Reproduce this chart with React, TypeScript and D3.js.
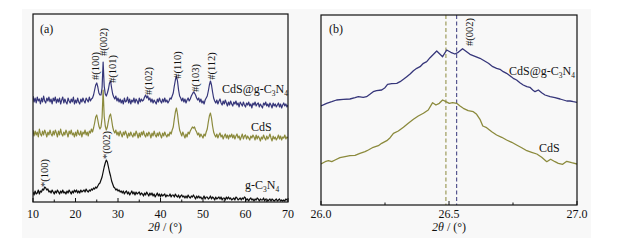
import React from "react";
import * as d3 from "d3";

// ---------- Panel (a) data: 2θ from 10° to 70° in 0.25° steps ----------
const thetaStartA = 10;
const thetaStepA = 0.25;

const cdsGcnA = [
  106, 100, 104, 99, 105, 101, 103, 98, 104, 100, 106, 101, 99, 104, 101, 105,
  100, 103, 98, 104, 101, 105, 99, 103, 100, 104, 98, 102, 105, 99, 103, 100,
  98, 104, 101, 99, 103, 100, 105, 98, 102, 99, 104, 100, 98, 103, 100, 104,
  101, 99, 104, 102, 100, 105, 101, 103, 104, 107, 112, 117, 119, 115, 109, 107,
  107, 114, 140, 116, 108, 106, 109, 113, 119, 121, 114, 108, 105, 103, 106, 101,
  104, 100, 103, 99, 102, 98, 104, 100, 101, 105, 99, 103, 98, 102, 100, 104,
  99, 103, 101, 98, 104, 100, 103, 101, 102, 105, 107, 104, 106, 102, 104, 100,
  103, 99, 102, 100, 98, 103, 100, 104, 101, 99, 103, 100, 104, 100, 102, 99,
  101, 104, 103, 106, 109, 116, 122, 126, 121, 112, 106, 104, 101, 104, 100, 103,
  99, 102, 104, 101, 103, 106, 108, 110, 109, 107, 104, 102, 104, 100, 103, 99,
  101, 98, 102, 104, 106, 111, 117, 121, 117, 110, 104, 101, 99, 102, 98, 101,
  103, 99, 97, 101, 98, 102, 99, 96, 100, 97, 101, 98, 96, 100, 98, 101,
  97, 99, 95, 100, 98, 96, 100, 97, 95, 99, 97, 100, 96, 98, 94, 99,
  97, 100, 96, 98, 99, 95, 98, 96, 94, 99, 97, 100, 96, 98, 95, 99,
  97, 94, 99, 96, 98, 95, 97, 99, 95, 98, 94, 97, 99, 96, 98, 95,
  97,
];

const cdsA = [
  72, 66, 71, 67, 70, 65, 73, 68, 66, 71, 67, 72, 69, 65, 70, 67,
  72, 68, 66, 71, 67, 72, 69, 65, 71, 67, 73, 68, 66, 70, 67, 72,
  69, 65, 71, 68, 72, 67, 69, 65, 70, 66, 72, 68, 67, 71, 65, 70,
  68, 72, 67, 70, 66, 71, 69, 73, 70, 74, 79, 85, 87, 82, 76, 73,
  75, 84, 112, 86, 76, 72, 75, 81, 86, 88, 82, 75, 71, 69, 72, 67,
  70, 66, 71, 68, 65, 70, 67, 71, 68, 64, 69, 66, 70, 67, 65, 69,
  66, 71, 68, 64, 69, 65, 70, 67, 71, 67, 65, 69, 66, 70, 68, 64,
  69, 66, 71, 67, 65, 69, 66, 70, 67, 64, 69, 66, 70, 67, 65, 68,
  66, 70, 68, 72, 75, 83, 90, 94, 88, 79, 72, 69, 66, 70, 67, 64,
  68, 65, 70, 68, 71, 73, 75, 74, 75, 72, 70, 67, 69, 65, 68, 66,
  64, 68, 66, 70, 73, 80, 86, 89, 84, 76, 70, 67, 65, 68, 64, 67,
  69, 65, 67, 63, 66, 68, 64, 67, 63, 67, 65, 68, 64, 67, 63, 66,
  68, 64, 66, 62, 65, 68, 63, 66, 67, 63, 66, 64, 62, 66, 64, 67,
  65, 62, 67, 63, 66, 64, 61, 65, 63, 67, 64, 62, 66, 63, 65, 68,
  64, 61, 66, 63, 65, 62, 64, 67, 63, 66, 62, 65, 64, 67, 63, 65,
  64,
];

const gcnA = [
  10, 7, 11, 8, 9, 12, 8, 11, 10, 13, 12, 15, 14, 12, 13, 10,
  11, 9, 12, 10, 8, 11, 9, 12, 10, 8, 11, 9, 12, 9, 10, 8,
  11, 9, 12, 10, 8, 11, 9, 12, 10, 12, 9, 11, 9, 12, 10, 11,
  12, 10, 13, 11, 10, 12, 11, 13, 12, 14, 13, 15, 14, 16, 18, 19,
  22, 25, 30, 35, 39, 42, 40, 35, 30, 26, 21, 18, 15, 14, 12, 13,
  11, 12, 10, 11, 9, 11, 8, 10, 11, 8, 10, 7, 9, 11, 8, 10,
  7, 10, 8, 9, 10, 7, 9, 8, 6, 9, 7, 10, 8, 6, 9, 7,
  9, 6, 8, 5, 7, 9, 6, 8, 5, 8, 6, 7, 8, 5, 7, 6,
  6, 8, 5, 7, 7, 5, 8, 6, 5, 7, 4, 6, 7, 5, 6, 4,
  6, 4, 7, 5, 4, 6, 5, 7, 5, 3, 6, 4, 6, 4, 5, 3,
  4, 6, 3, 5, 5, 3, 4, 6, 3, 5, 4, 2, 5, 3, 4, 5,
  3, 5, 2, 4, 4, 2, 5, 3, 5, 3, 4, 2, 3, 4, 2, 5,
  4, 2, 3, 4, 2, 4, 3, 5, 4, 2, 3, 1, 3, 4, 2, 3,
  1, 3, 2, 4, 3, 1, 3, 2, 2, 4, 1, 3, 3, 1, 2, 3,
  1, 3, 2, 1, 2, 3, 1, 2, 3, 1, 2, 1, 2, 1, 3, 2,
  2,
];

const peakLabelsA = [
  { theta: 24.6, text: "#(100)", cy: 66 },
  { theta: 26.7, text: "#(002)", cy: 42 },
  { theta: 28.8, text: "#(101)", cy: 69 },
  { theta: 37.1, text: "#(102)", cy: 81 },
  { theta: 44.1, text: "#(110)", cy: 65 },
  { theta: 48.35, text: "#(103)", cy: 78 },
  { theta: 52.1, text: "#(112)", cy: 66 },
  { theta: 12.8, text: "*(100)", cy: 173 },
  { theta: 27.4, text: "*(002)", cy: 145 },
];

const ticksA = [10, 20, 30, 40, 50, 60, 70];
const minorTicksA = [15, 25, 35, 45, 55, 65];

// ---------- Panel (b) data: zoom on the (002) reflection ----------
const cdsGcnBTheta = [
  26.0, 26.022, 26.042, 26.061, 26.087, 26.113, 26.133, 26.146, 26.165, 26.178,
  26.191, 26.204, 26.217, 26.237, 26.25, 26.26, 26.276, 26.296, 26.309, 26.322,
  26.335, 26.348, 26.361, 26.374, 26.387, 26.4, 26.413, 26.426, 26.452, 26.475,
  26.491, 26.507, 26.523, 26.536, 26.553, 26.582, 26.621, 26.654, 26.671, 26.686,
  26.699, 26.712, 26.725, 26.738, 26.751, 26.764, 26.777, 26.79, 26.804, 26.816,
  26.827, 26.836, 26.849, 26.862, 26.875, 26.895, 26.914, 26.934, 26.947, 26.96,
  26.973, 26.986, 27.0,
];
const cdsGcnBValue = [
  99, 101.7, 103.3, 105, 105.7, 106, 107.3, 108.3, 107.7, 108.3,
  110.7, 113.3, 114.3, 115, 117.3, 120.7, 121.3, 121.7, 123.3, 125.7,
  128.3, 131, 134.3, 136.7, 138.3, 141.7, 143.3, 147.3, 154, 148.3,
  155, 152.7, 151, 152.7, 156.3, 150.7, 146.7, 141.7, 138.3, 136.7,
  135.7, 133.3, 131.7, 129.3, 126.7, 125, 122.3, 120, 118.3, 117.7,
  115, 113.3, 115, 112.3, 110, 108.3, 107.3, 106, 105, 104,
  104, 103.3, 102.7,
];

const cdsBTheta = [
  26.0, 26.016, 26.029, 26.042, 26.055, 26.074, 26.094, 26.113, 26.133, 26.152,
  26.172, 26.185, 26.204, 26.224, 26.237, 26.257, 26.27, 26.283, 26.302, 26.322,
  26.341, 26.361, 26.38, 26.4, 26.419, 26.436, 26.449, 26.462, 26.475, 26.488,
  26.501, 26.514, 26.53, 26.543, 26.556, 26.575, 26.595, 26.608, 26.621, 26.632,
  26.647, 26.667, 26.686, 26.706, 26.725, 26.745, 26.764, 26.784, 26.804, 26.823,
  26.843, 26.862, 26.882, 26.897, 26.914, 26.927, 26.944, 26.96, 26.979, 27.0,
];
const cdsBValue = [
  41, 43.3, 44.3, 43.3, 45, 47.3, 48.3, 49.3, 49.7, 51.7,
  53.3, 55, 57.7, 59.3, 61.7, 64.3, 67.3, 71.7, 74, 77.7,
  81.7, 85.7, 89, 91.7, 95, 102.3, 100, 101.7, 105, 103.3,
  101.7, 102.3, 101.7, 99, 96.7, 94.3, 93.3, 90.7, 85.7, 79,
  77.3, 73.3, 70, 67.7, 65, 62.7, 60, 57.3, 54.3, 52.7,
  51, 47.7, 43.3, 45.7, 43.3, 41.7, 40.7, 43.7, 42.3, 41,
];

const peakPositionsB = [
  { theta: 26.488, key: "CdS" },
  { theta: 26.53, key: "CdS@g-C3N4" },
];

const ticksB = [26.0, 26.5, 27.0];
const minorTicksB = [26.25, 26.75];

// ---------- Styling ----------
const NAVY = "#36367a";
const OLIVE = "#8b8a3c";
const BLACK = "#0d0d0d";
const FONT = "'Times New Roman', 'Liberation Serif', serif";

type Pt = [number, number];

function Formula({ prefix, x, y, size = 12, anchor = "start" }: { prefix: string; x: number; y: number; size?: number; anchor?: any }) {
  const sub = size * 0.62;
  return (
    <text x={x} y={y} fontSize={size} fontFamily={FONT} textAnchor={anchor} fill="#111">
      {prefix}C
      <tspan fontSize={sub} dy={3}>3</tspan>
      <tspan dy={-3}>N</tspan>
      <tspan fontSize={sub} dy={3}>4</tspan>
    </text>
  );
}

export default function App() {
  // Panel (a)
  const aLeft = 33, aRight = 288, aTop = 14, aBottom = 202;
  const xA = d3.scaleLinear().domain([10, 70]).range([aLeft, aRight]);
  const yA = d3.scaleLinear().domain([0, 188]).range([aBottom, aTop]);
  const lineA = d3
    .line<number>()
    .x((_, i) => xA(thetaStartA + i * thetaStepA))
    .y((v) => yA(v));

  // Panel (b)
  const bLeft = 321, bRight = 577, bTop = 15, bBottom = 205;
  const xB = d3.scaleLinear().domain([26.0, 27.0]).range([bLeft, bRight]);
  const yB = d3.scaleLinear().domain([0, 190]).range([bBottom, bTop]);
  const lineB = d3
    .line<Pt>()
    .x((d) => xB(d[0]))
    .y((d) => yB(d[1]));
  const navyB: Pt[] = cdsGcnBTheta.map((t, i) => [t, cdsGcnBValue[i]]);
  const oliveB: Pt[] = cdsBTheta.map((t, i) => [t, cdsBValue[i]]);

  const tickLabelY = 218;
  const titleY = 231;

  return (
    <svg
      width={632}
      height={243}
      viewBox="0 0 632 243"
      style={{ position: "absolute", left: 0, top: 0, display: "block", background: "#fff" }}
    >
      <rect x={22} y={9} width={569} height={229} fill="#f8f8f8" />

      {/* ---------- Panel (a) ---------- */}
      <clipPath id="clipA">
        <rect x={aLeft} y={aTop} width={aRight - aLeft} height={aBottom - aTop} />
      </clipPath>
      <g clipPath="url(#clipA)">
        <path d={lineA(gcnA) || ""} fill="none" stroke={BLACK} strokeWidth={1.2} strokeLinejoin="round" />
        <path d={lineA(cdsA) || ""} fill="none" stroke={OLIVE} strokeWidth={1.2} strokeLinejoin="round" />
        <path d={lineA(cdsGcnA) || ""} fill="none" stroke={NAVY} strokeWidth={1.2} strokeLinejoin="round" />
      </g>
      <rect x={aLeft} y={aTop} width={aRight - aLeft} height={aBottom - aTop} fill="none" stroke="#111" strokeWidth={1.2} />
      {ticksA.map((t) => (
        <g key={"ta" + t}>
          <line x1={xA(t)} x2={xA(t)} y1={aBottom} y2={aBottom - 4} stroke="#111" strokeWidth={1} />
          <text x={xA(t)} y={tickLabelY} fontSize={12} fontFamily={FONT} textAnchor="middle" fill="#111">
            {t}
          </text>
        </g>
      ))}
      {minorTicksA.map((t) => (
        <line key={"ma" + t} x1={xA(t)} x2={xA(t)} y1={aBottom} y2={aBottom - 2.5} stroke="#111" strokeWidth={1} />
      ))}
      <text x={165} y={titleY} fontSize={12} fontFamily={FONT} textAnchor="middle" fill="#111">
        <tspan fontStyle="italic">2θ</tspan> / (°)
      </text>
      <text x={40} y={33} fontSize={12} fontFamily={FONT} fill="#111">(a)</text>
      {peakLabelsA.map((p) => (
        <text
          key={p.text + p.theta}
          transform={`translate(${xA(p.theta)},${p.cy}) rotate(-90)`}
          fontSize={10.5}
          fontFamily={FONT}
          textAnchor="middle"
          dominantBaseline="central"
          fill="#111"
        >
          {p.text}
        </text>
      ))}
      <Formula prefix="CdS@g-" x={222} y={93} size={12} />
      <text x={251} y={131} fontSize={12} fontFamily={FONT} fill="#111">CdS</text>
      <Formula prefix="g-" x={245} y={189} size={12} />

      {/* ---------- Panel (b) ---------- */}
      <clipPath id="clipB">
        <rect x={bLeft} y={bTop} width={bRight - bLeft} height={bBottom - bTop} />
      </clipPath>
      <g clipPath="url(#clipB)">
        {peakPositionsB.map((p) => (
          <line
            key={p.key}
            x1={xB(p.theta)}
            x2={xB(p.theta)}
            y1={bTop}
            y2={bBottom}
            stroke={p.key === "CdS" ? OLIVE : NAVY}
            strokeWidth={1}
            strokeDasharray="4,2.5"
          />
        ))}
        <path d={lineB(oliveB) || ""} fill="none" stroke={OLIVE} strokeWidth={1.3} strokeLinejoin="round" />
        <path d={lineB(navyB) || ""} fill="none" stroke={NAVY} strokeWidth={1.3} strokeLinejoin="round" />
      </g>
      <rect x={bLeft} y={bTop} width={bRight - bLeft} height={bBottom - bTop} fill="none" stroke="#111" strokeWidth={1.2} />
      {ticksB.map((t) => (
        <g key={"tb" + t}>
          <line x1={xB(t)} x2={xB(t)} y1={bBottom} y2={bBottom - 4} stroke="#111" strokeWidth={1} />
          <text x={xB(t)} y={tickLabelY} fontSize={12} fontFamily={FONT} textAnchor="middle" fill="#111">
            {t.toFixed(1)}
          </text>
        </g>
      ))}
      {minorTicksB.map((t) => (
        <line key={"mb" + t} x1={xB(t)} x2={xB(t)} y1={bBottom} y2={bBottom - 2.5} stroke="#111" strokeWidth={1} />
      ))}
      <text x={449} y={titleY} fontSize={12} fontFamily={FONT} textAnchor="middle" fill="#111">
        <tspan fontStyle="italic">2θ</tspan> / (°)
      </text>
      <text x={329} y={33} fontSize={12} fontFamily={FONT} fill="#111">(b)</text>
      <text
        transform={`translate(${xB(26.582)},32) rotate(-90)`}
        fontSize={10.5}
        fontFamily={FONT}
        textAnchor="middle"
        dominantBaseline="central"
        fill="#111"
      >
        #(002)
      </text>
      <Formula prefix="CdS@g-" x={509} y={75} size={12} />
      <text x={539} y={152} fontSize={12} fontFamily={FONT} fill="#111">CdS</text>
    </svg>
  );
}
